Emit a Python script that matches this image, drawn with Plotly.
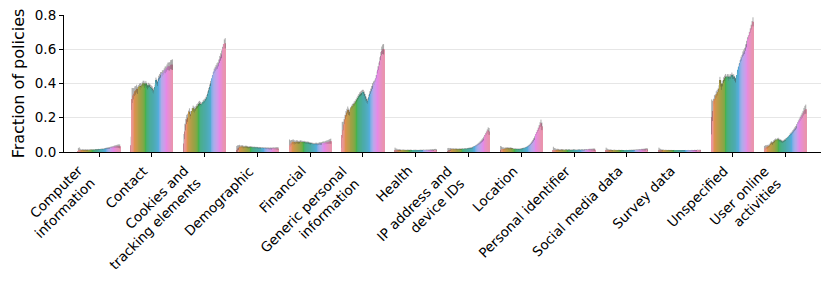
import math
import colorsys
import plotly.graph_objects as go

categories = ["Computer<br>information", "Contact", "Cookies and<br>tracking elements", "Demographic",
              "Financial", "Generic personal<br>information", "Health", "IP address and<br>device IDs",
              "Location", "Personal identifier", "Social media data", "Survey data", "Unspecified",
              "User online<br>activities"]

intervals = [f"{y}{h}" for y in range(1997, 2020) for h in ("A", "B")]

# number of policies per interval (used for 95% confidence intervals)
n_policies = [60, 200, 450, 800, 1100, 1400, 1700, 2000, 2300, 2600, 2900, 3100, 3300, 3500, 3700, 3900,
              4100, 4300, 4500, 4700, 4800, 4900, 5000, 5000, 5000, 4900, 4800, 4600, 4400, 4200,
              4000, 3800, 3600, 3400, 3200, 3000, 2800, 2600, 2400, 2200, 2000, 1800, 1600, 1400, 1200, 1000]

computer_information = [0.005, 0.012, 0.010, 0.008, 0.010, 0.012, 0.010, 0.011, 0.012, 0.011, 0.012, 0.011,
                        0.012, 0.012, 0.013, 0.012, 0.013, 0.012, 0.013, 0.014, 0.013, 0.014, 0.015, 0.014,
                        0.015, 0.016, 0.017, 0.016, 0.018, 0.019, 0.020, 0.021, 0.022, 0.023, 0.024, 0.025,
                        0.026, 0.027, 0.028, 0.030, 0.031, 0.032, 0.033, 0.034, 0.034, 0.033]
contact = [0.04, 0.31, 0.33, 0.34, 0.355, 0.36, 0.37, 0.36, 0.37, 0.38, 0.385, 0.38, 0.39, 0.40, 0.40, 0.39,
           0.40, 0.39, 0.38, 0.39, 0.385, 0.38, 0.375, 0.37, 0.36, 0.355, 0.38, 0.42, 0.41, 0.40, 0.43, 0.44,
           0.45, 0.45, 0.46, 0.46, 0.47, 0.48, 0.48, 0.49, 0.50, 0.50, 0.50, 0.51, 0.51, 0.51]
cookies = [0.05, 0.12, 0.16, 0.19, 0.20, 0.22, 0.235, 0.22, 0.21, 0.24, 0.255, 0.25, 0.245, 0.255, 0.265, 0.27,
           0.28, 0.285, 0.28, 0.275, 0.28, 0.29, 0.295, 0.30, 0.31, 0.32, 0.34, 0.36, 0.38, 0.40, 0.41, 0.43,
           0.45, 0.47, 0.48, 0.49, 0.50, 0.505, 0.52, 0.54, 0.555, 0.57, 0.59, 0.605, 0.63, 0.635]
demographic = [0.010, 0.020, 0.025, 0.030, 0.028, 0.030, 0.032, 0.030, 0.028, 0.030, 0.031, 0.030, 0.028,
               0.027, 0.028, 0.029, 0.028, 0.027, 0.026, 0.027, 0.026, 0.025, 0.026, 0.025, 0.024, 0.025,
               0.024, 0.023, 0.024, 0.023, 0.022, 0.023, 0.022, 0.021, 0.022, 0.021, 0.020, 0.021, 0.020,
               0.020, 0.021, 0.020, 0.020, 0.021, 0.020, 0.020]
financial = [0.030, 0.040, 0.050, 0.055, 0.060, 0.058, 0.055, 0.057, 0.060, 0.058, 0.056, 0.058, 0.060, 0.059,
             0.058, 0.057, 0.058, 0.056, 0.055, 0.054, 0.055, 0.053, 0.052, 0.050, 0.049, 0.048, 0.047, 0.046,
             0.047, 0.048, 0.047, 0.046, 0.048, 0.050, 0.049, 0.050, 0.052, 0.053, 0.052, 0.054, 0.056, 0.057,
             0.058, 0.060, 0.062, 0.063]
generic = [0.10, 0.13, 0.16, 0.19, 0.215, 0.23, 0.245, 0.235, 0.23, 0.245, 0.255, 0.265, 0.27, 0.28, 0.285,
           0.295, 0.305, 0.315, 0.325, 0.335, 0.34, 0.345, 0.35, 0.35, 0.34, 0.325, 0.31, 0.30, 0.295, 0.32,
           0.34, 0.355, 0.37, 0.385, 0.395, 0.40, 0.41, 0.43, 0.45, 0.48, 0.50, 0.53, 0.56, 0.59, 0.60, 0.60]
health = [0.006, 0.008, 0.010, 0.009, 0.010, 0.011, 0.010, 0.009, 0.010, 0.011, 0.010, 0.010, 0.009, 0.010,
          0.011, 0.010, 0.010, 0.011, 0.010, 0.009, 0.010, 0.010, 0.011, 0.010, 0.010, 0.009, 0.010, 0.010,
          0.011, 0.010, 0.010, 0.011, 0.010, 0.010, 0.011, 0.010, 0.011, 0.010, 0.011, 0.012, 0.011, 0.012,
          0.011, 0.012, 0.012, 0.011]
ip_address = [0.005, 0.010, 0.012, 0.015, 0.014, 0.015, 0.016, 0.015, 0.016, 0.017, 0.016, 0.015, 0.016,
              0.017, 0.016, 0.017, 0.018, 0.017, 0.018, 0.019, 0.018, 0.019, 0.020, 0.021, 0.022, 0.023,
              0.024, 0.026, 0.028, 0.030, 0.033, 0.036, 0.040, 0.044, 0.048, 0.053, 0.058, 0.064, 0.070,
              0.078, 0.087, 0.096, 0.105, 0.115, 0.125, 0.120]
location = [0.010, 0.015, 0.016, 0.018, 0.017, 0.019, 0.020, 0.021, 0.022, 0.020, 0.021, 0.022, 0.020, 0.019,
            0.018, 0.017, 0.018, 0.017, 0.016, 0.017, 0.016, 0.017, 0.018, 0.019, 0.020, 0.021, 0.022, 0.024,
            0.026, 0.029, 0.032, 0.036, 0.041, 0.047, 0.054, 0.062, 0.071, 0.081, 0.092, 0.103, 0.115, 0.127,
            0.140, 0.155, 0.168, 0.150]
personal_identifier = [0.008, 0.010, 0.012, 0.011, 0.012, 0.013, 0.012, 0.011, 0.012, 0.013, 0.012, 0.012,
                       0.011, 0.012, 0.013, 0.012, 0.012, 0.013, 0.012, 0.011, 0.012, 0.012, 0.013, 0.012,
                       0.012, 0.011, 0.012, 0.012, 0.013, 0.012, 0.012, 0.013, 0.012, 0.012, 0.013, 0.012,
                       0.013, 0.012, 0.013, 0.014, 0.013, 0.014, 0.013, 0.014, 0.014, 0.013]
social_media = [0.006, 0.008, 0.009, 0.008, 0.009, 0.010, 0.009, 0.008, 0.009, 0.010, 0.009, 0.009, 0.008,
                0.009, 0.010, 0.009, 0.009, 0.010, 0.009, 0.008, 0.009, 0.009, 0.010, 0.009, 0.009, 0.010,
                0.010, 0.010, 0.011, 0.010, 0.011, 0.011, 0.011, 0.012, 0.012, 0.012, 0.013, 0.012, 0.013,
                0.014, 0.013, 0.014, 0.014, 0.015, 0.015, 0.014]
survey = [0.006, 0.008, 0.009, 0.008, 0.009, 0.009, 0.008, 0.009, 0.009, 0.008, 0.009, 0.009, 0.008, 0.009,
          0.009, 0.008, 0.009, 0.009, 0.008, 0.008, 0.009, 0.009, 0.008, 0.009, 0.008, 0.008, 0.009, 0.008,
          0.008, 0.009, 0.008, 0.008, 0.009, 0.008, 0.008, 0.008, 0.009, 0.008, 0.008, 0.009, 0.008, 0.008,
          0.009, 0.008, 0.008, 0.008]
unspecified = [0.205, 0.24, 0.27, 0.30, 0.31, 0.33, 0.34, 0.35, 0.37, 0.42, 0.40, 0.38, 0.40, 0.42, 0.43, 0.44,
               0.43, 0.44, 0.44, 0.43, 0.44, 0.44, 0.45, 0.44, 0.44, 0.43, 0.42, 0.42, 0.45, 0.48, 0.50, 0.52,
               0.54, 0.55, 0.57, 0.58, 0.59, 0.61, 0.63, 0.65, 0.66, 0.68, 0.70, 0.72, 0.74, 0.76]
user_online = [0.010, 0.020, 0.025, 0.030, 0.030, 0.035, 0.040, 0.050, 0.055, 0.050, 0.060, 0.065, 0.070,
               0.068, 0.072, 0.075, 0.070, 0.068, 0.065, 0.062, 0.060, 0.064, 0.068, 0.072, 0.075, 0.080,
               0.085, 0.090, 0.100, 0.105, 0.110, 0.118, 0.125, 0.133, 0.140, 0.150, 0.160, 0.170, 0.180,
               0.190, 0.200, 0.210, 0.220, 0.235, 0.245, 0.250]

series = [computer_information, contact, cookies, demographic, financial, generic, health, ip_address,
          location, personal_identifier, social_media, survey, unspecified, user_online]
for s in series:
    assert len(s) == len(intervals), len(s)

# ---- seaborn-like husl palette ----
_M = [[3.2406, -1.5372, -0.4986], [-0.9689, 1.8758, 0.0415], [0.0557, -0.2040, 1.0570]]


def _max_chroma(L, H):
    hrad = math.radians(H)
    sinH, cosH = math.sin(hrad), math.cos(hrad)
    sub1 = (L + 16) ** 3 / 1560896.0
    sub2 = sub1 if sub1 > 0.008856 else L / 903.3
    result = float("inf")
    for m1, m2, m3 in _M:
        top = (0.99915 * m1 + 1.05122 * m2 + 1.14460 * m3) * sub2
        rbottom = 0.86330 * m3 - 0.17266 * m2
        lbottom = 0.12949 * m3 - 0.38848 * m1
        bottom = (rbottom * sinH + lbottom * cosH) * sub2
        for t in (0.0, 1.0):
            C = L * (top - 1.05122 * t) / (bottom + 0.17266 * sinH * t)
            if 0.0 < C < result:
                result = C
    return result


def _husl_to_rgb(H, S, L):
    C = _max_chroma(L, H) / 100.0 * S
    U, V = math.cos(math.radians(H)) * C, math.sin(math.radians(H)) * C
    t = (L + 16.0) / 116.0
    varY = t ** 3 if t ** 3 > 0.008856 else (116.0 * t - 16.0) / 903.3
    varU = U / (13.0 * L) + 0.19784
    varV = V / (13.0 * L) + 0.46834
    Y = varY
    X = 0.0 - (9.0 * Y * varU) / ((varU - 4.0) * varV - varU * varV)
    Z = (9.0 * Y - 15.0 * varV * Y - varV * X) / (3.0 * varV)
    out = []
    for row in _M:
        c = row[0] * X + row[1] * Y + row[2] * Z
        c = 12.92 * c if c <= 0.0031308 else 1.055 * c ** (1 / 2.4) - 0.055
        out.append(min(max(c, 0.0), 1.0))
    return out


def husl_palette(n, h=0.01, s=0.9, l=0.7, sat=0.75):
    cols = []
    for i in range(n):
        hue = ((i / n) + h) % 1 * 359
        r, g, b = _husl_to_rgb(hue, s * 99, l * 99)
        hh, ll, ss = colorsys.rgb_to_hls(r, g, b)
        r, g, b = colorsys.hls_to_rgb(hh, ll, ss * sat)
        cols.append(f"rgb({round(r * 255)},{round(g * 255)},{round(b * 255)})")
    return cols


colors = husl_palette(len(intervals))

fig = go.Figure()
for j, name in enumerate(intervals):
    vals = [s[j] for s in series]
    n = n_policies[j]
    errs = [1.96 * math.sqrt(max(v * (1 - v), 1e-6) / n) for v in vals]
    fig.add_trace(go.Bar(
        x=categories, y=vals, name=name,
        marker=dict(color=colors[j], line=dict(width=0)),
        error_y=dict(type="data", array=errs, visible=True, thickness=0.8, width=0,
                     color="rgba(66,66,66,0.55)"),
    ))

# rotated category labels anchored by their rotated bounding box (top-right at the tick)
for i, cat in enumerate(categories):
    fig.add_annotation(x=i, y=0, xref="x", yref="paper", text=cat, textangle=-45,
                       xanchor="right", yanchor="top", align="right", showarrow=False,
                       yshift=-8, xshift=2, font=dict(family="DejaVu Sans", size=13.5, color="black"))

fig.update_layout(
    width=831, height=287,
    margin=dict(l=64, r=10, t=15, b=135, autoexpand=False),
    barmode="group", bargap=0.2, bargroupgap=0,
    plot_bgcolor="white", paper_bgcolor="white",
    showlegend=False,
    font=dict(family="DejaVu Sans", size=13.5, color="black"),
    xaxis=dict(range=[-0.664, 13.68], showline=True, linecolor="black", linewidth=1.1,
               ticks="outside", ticklen=4, tickwidth=1.1, tickcolor="black",
               showticklabels=False, showgrid=False, zeroline=False, automargin=False),
    yaxis=dict(range=[0, 0.8], tickvals=[0, 0.2, 0.4, 0.6, 0.8],
               ticktext=["0.0", "0.2", "0.4", "0.6", "0.8"],
               showline=True, linecolor="black", linewidth=1.1,
               ticks="outside", ticklen=4, tickwidth=1.1, tickcolor="black",
               showgrid=True, gridcolor="#e6e6e6", gridwidth=1, zeroline=False, automargin=False,
               title=dict(text="Fraction of policies", standoff=6)),
)

fig.write_html("out.html", config={"displayModeBar": False},
               post_script="document.body.style.margin='0';document.body.style.padding='0';")
